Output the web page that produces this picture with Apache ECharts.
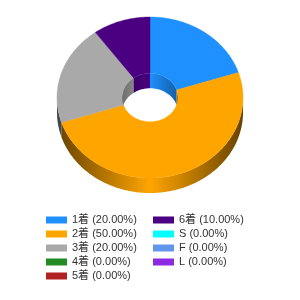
<!DOCTYPE html>
<html><head><meta charset="utf-8">
<script src="https://cdn.jsdelivr.net/npm/echarts@6/dist/echarts.min.js"></script>
<style>html,body{margin:0;padding:0;background:#fff}#c{width:300px;height:300px}</style>
</head><body><div id="c"></div>
<script>
const categories = ['1着','2着','3着','4着','5着','6着','S','F','L'];
const values = [20, 50, 20, 0, 0, 10, 0, 0, 0];
const colors = ['#1E90FF','#FFA500','#A9A9A9','#228B22','#B22222','#4B0082','#00FFFF','#6495ED','#8A2BE2'];

const FONT = "'Liberation Sans','Noto Sans CJK JP',sans-serif";
const CX = 150, CY = 97.5, RX = 93, RY = 80.5, IRX = 28, IRY = IRX * RY / RX, DEPTH = 15;
const TWO_PI = Math.PI * 2;
const total = values.reduce((a, b) => a + b, 0);
const starts = [];
{ let acc = 0; values.forEach(v => { starts.push(acc); acc += v; }); }

function shade(hex, f) {
  const n = parseInt(hex.slice(1), 16);
  const r = Math.round(((n >> 16) & 255) * f), g = Math.round(((n >> 8) & 255) * f), b = Math.round((n & 255) * f);
  return 'rgb(' + r + ',' + g + ',' + b + ')';
}
function pt(t, rx, ry, dy) { return [CX + rx * Math.sin(t), CY - ry * Math.cos(t) + dy]; }
function arc(a, b, rx, ry, dy) {
  const n = Math.max(2, Math.ceil((b - a) / (Math.PI / 180)));
  const out = [];
  for (let k = 0; k <= n; k++) out.push(pt(a + (b - a) * k / n, rx, ry, dy));
  return out;
}
function grad(x0, x1, c, edge) {
  return new echarts.graphic.LinearGradient(x0, 0, x1, 0, [
    { offset: 0, color: shade(c, edge) },
    { offset: 0.5, color: c },
    { offset: 1, color: shade(c, edge) }
  ], true);
}

function renderItem(params, api) {
  const i = params.dataIndex;
  const v = api.value(0);
  if (!v) return null;
  const a = starts[i] / total * TWO_PI, b = (starts[i] + v) / total * TWO_PI;
  const c = colors[i];
  const children = [];
  children.push({
    type: 'polygon', z2: 10,
    shape: { points: arc(a, b, RX, RY, 0).concat(arc(a, b, IRX, IRY, 0).reverse()) },
    style: { fill: c, stroke: c, lineWidth: 0.4 }
  });
  // outer side wall (front half)
  const s = Math.max(a, Math.PI / 2), e = Math.min(b, Math.PI * 1.5);
  if (s < e) {
    children.push({
      type: 'polygon', z2: 1,
      shape: { points: arc(s, e, RX, RY, 0).concat(arc(s, e, RX, RY, DEPTH).reverse()) },
      style: { fill: grad(CX - RX, CX + RX, c, 0.4) }
    });
  }
  // inner wall (back half)
  [[0, Math.PI / 2], [Math.PI * 1.5, TWO_PI]].forEach(r => {
    const s2 = Math.max(a, r[0]), e2 = Math.min(b, r[1]);
    if (s2 < e2) {
      children.push({
        type: 'polygon', z2: 1,
        shape: { points: arc(s2, e2, IRX, IRY, 0).concat(arc(s2, e2, IRX, IRY, DEPTH).reverse()) },
        style: { fill: grad(CX - IRX, CX + IRX, c, 0.65) }
      });
    }
  });
  return { type: 'group', children: children };
}

const pctOf = name => {
  const i = categories.indexOf(name);
  return (values[i] / total * 100).toFixed(2) + '%';
};
const legendBase = {
  orient: 'vertical', top: 213, padding: 0, itemGap: 0,
  itemWidth: 21, itemHeight: 7, icon: 'rect',
  textStyle: { fontSize: 11, lineHeight: 14, fontFamily: FONT, color: '#333' },
  formatter: name => name + ' (' + pctOf(name) + ')',
  selectedMode: false
};

const chart = echarts.init(document.getElementById('c'), null, { renderer: 'canvas' });
chart.setOption({
  animation: false,
  legend: [
    Object.assign({}, legendBase, { left: 46, data: categories.slice(0, 5) }),
    Object.assign({}, legendBase, { left: 153, data: categories.slice(5) })
  ],
  series: [
    {
      type: 'custom', coordinateSystem: 'none', silent: true,
      renderItem: renderItem,
      data: values.map((v, i) => ({ name: categories[i], value: [v] }))
    },
    {
      type: 'pie', radius: [0, 0], center: [-50, -50], silent: true,
      label: { show: false }, labelLine: { show: false },
      data: values.map((v, i) => ({ name: categories[i], value: v, itemStyle: { color: colors[i] } }))
    }
  ]
});
</script></body></html>
